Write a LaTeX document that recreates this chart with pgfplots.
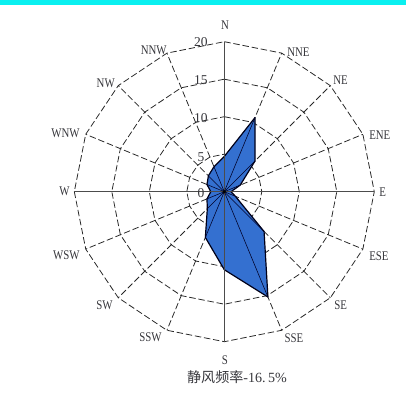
\documentclass[border=0pt]{standalone}
\usepackage{pgfplots}
\pgfplotsset{compat=1.18}
\usepackage{pgfplotstable}
\usepackage{fontspec}
\setmainfont{Liberation Serif}
\newfontfamily\lbl[FakeStretch=0.82]{Liberation Serif}
\newfontfamily\cjk{Noto Sans CJK SC}
\definecolor{rosefill}{RGB}{52,112,208}
\definecolor{topbar}{RGB}{10,240,240}
\definecolor{txt}{RGB}{55,55,60}

% compass bearing (deg, clockwise from N) and frequency (%)
\pgfplotstableread{
dir val
0 4.7
22.5 10.7
45 5.8
67.5 2.3
90 0.9
112.5 1.6
135 7.5
157.5 15.2
180 10.4
202.5 6.6
225 3.2
247.5 2.5
270 1.8
292.5 2.5
315 3.0
337.5 3.6
360 4.7
}\rosedata

\begin{document}
\begin{tikzpicture}[gridline/.style={black!85, line width=0.55pt, dash pattern=on 4.6pt off 2pt}]
\begin{axis}[
  scale only axis, width=10.15cm, height=10.35cm,
  xmin=-29.907, xmax=24.227, ymin=-29.64, ymax=25.56,
  hide axis, clip=false,
]
\fill[white] (rel axis cs:0,0) rectangle (rel axis cs:1,1);
\fill[topbar] (axis cs:-29.907,24.893) rectangle (axis cs:24.227,25.56);

% polygon rings
\pgfplotsinvokeforeach{5,10,15,20}{
  \draw[gridline] plot[samples at={0,22.5,...,337.5}] (axis cs:{#1*sin(\x)},{#1*cos(\x)}) -- cycle;
}
% dashed spokes
\pgfplotsinvokeforeach{22.5,45,67.5,112.5,135,157.5,202.5,225,247.5,292.5,315,337.5}{
  \draw[gridline] (axis cs:0,0) -- (axis cs:{20*sin(#1)},{20*cos(#1)});
}

% rose
\addplot[fill=rosefill, draw=black!90!blue, line width=0.85pt, line join=round]
  table[x expr={\thisrow{val}*sin(\thisrow{dir})}, y expr={\thisrow{val}*cos(\thisrow{dir})}] {\rosedata};
% inner rays to vertices
\addplot[black!85!blue, line width=0.4pt, quiver={u={\thisrow{val}*sin(\thisrow{dir})}, v={\thisrow{val}*cos(\thisrow{dir})}}]
  table[x expr=0, y expr=0] {\rosedata};

% solid main axes
\draw[black!70, line width=0.9pt] (axis cs:0,-20) -- (axis cs:0,20);
\draw[black!70, line width=0.9pt] (axis cs:-20,0) -- (axis cs:20,0);
\fill[black] (axis cs:0,0) circle (1.3pt);

% direction labels
\begin{scope}[every node/.style={font=\lbl\fontsize{9.4}{11}\selectfont, text=txt, inner sep=0pt}]
\node[anchor=center] at (axis cs:0.09,22.23) {N};
\node[anchor=west] at (axis cs:8.36,18.63) {NNE};
\node[anchor=west] at (axis cs:14.49,14.89) {NE};
\node[anchor=west] at (axis cs:19.29,7.56) {ENE};
\node[anchor=west] at (axis cs:20.63,-0.04) {E};
\node[anchor=west] at (axis cs:19.29,-8.57) {ESE};
\node[anchor=west] at (axis cs:14.63,-15.11) {SE};
\node[anchor=west] at (axis cs:7.99,-19.51) {SSE};
\node[anchor=center] at (axis cs:0.09,-22.44) {S};
\node[anchor=east] at (axis cs:-8.31,-19.37) {SSW};
\node[anchor=east] at (axis cs:-14.84,-15.11) {SW};
\node[anchor=east] at (axis cs:-19.24,-8.44) {WSW};
\node[anchor=east] at (axis cs:-20.6,0.09) {W};
\node[anchor=east] at (axis cs:-19.24,7.83) {WNW};
\node[anchor=east] at (axis cs:-14.57,14.49) {NW};
\node[anchor=east] at (axis cs:-7.64,18.89) {NNW};
\end{scope}

% radial labels
\begin{scope}[every node/.style={font=\fontsize{9.6}{11}\selectfont, text=txt, inner sep=0pt}]
\node at (axis cs:-3.11,19.96) {20};
\node at (axis cs:-3.11,14.89) {15};
\node at (axis cs:-3.11,9.83) {10};
\node at (axis cs:-3.11,4.63) {5};
\node at (axis cs:-3.11,-0.17) {0};
\end{scope}

% caption
\node[font=\fontsize{10}{11}\selectfont, text=txt, inner sep=0pt] at (axis cs:1.69,-24.72) {{\cjk 静风频率}-16.\,5\%};
\end{axis}
\end{tikzpicture}
\end{document}
